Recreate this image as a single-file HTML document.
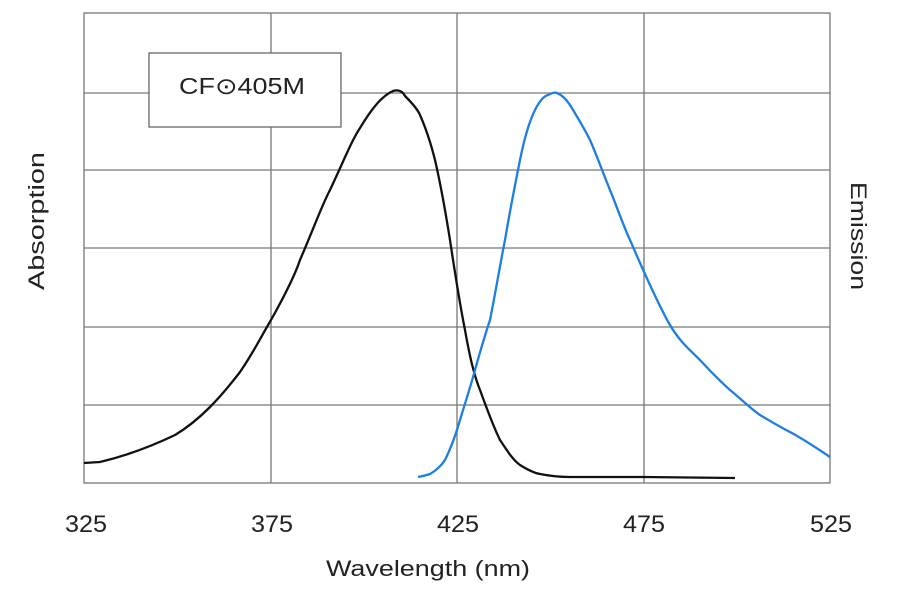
<!DOCTYPE html>
<html><head><meta charset="utf-8"><style>
html,body{margin:0;padding:0;background:#fff;}
svg{display:block;font-family:"Liberation Sans","DejaVu Sans",sans-serif;}
</style></head><body>
<svg width="900" height="594" viewBox="0 0 900 594" xmlns="http://www.w3.org/2000/svg">
<g stroke="#777" stroke-width="1.3" fill="none">
<rect x="84" y="13" width="746" height="470"/>
<line x1="271" y1="13" x2="271" y2="483"/>
<line x1="457" y1="13" x2="457" y2="483"/>
<line x1="644" y1="13" x2="644" y2="483"/>
<line x1="84" y1="93" x2="830" y2="93"/>
<line x1="84" y1="170" x2="830" y2="170"/>
<line x1="84" y1="248" x2="830" y2="248"/>
<line x1="84" y1="327" x2="830" y2="327"/>
<line x1="84" y1="405" x2="830" y2="405"/>
</g>
<rect x="149" y="53" width="192" height="74" fill="#fff" stroke="#666" stroke-width="1.3"/>
<text x="179" y="94" font-size="23" fill="#222" textLength="126" lengthAdjust="spacingAndGlyphs">CF⊙405M</text>
<path d="M84,463 L100,462 C125,456 150,447 175,435 C200,420 220,398 240,372 C255,350 262,335 271,320 C285,295 295,275 300,260 C315,225 322,205 330,190 C345,158 352,140 360,128 C372,108 382,96 393,91 C399,89 403,92 405,96 C412,103 418,110 420,115 C428,133 432,148 435,160 C442,190 446,215 450,240 C456,280 460,305 465,330 C470,358 474,375 480,390 C488,412 494,428 500,440 C508,452 513,460 520,465 C528,470 534,473 540,474 C555,477 565,477 570,477 L643,477 L735,478" fill="none" stroke="#111" stroke-width="2.3"/>
<path d="M418,477 C424,476 427,475 430,474 C437,470 441,466 445,460 C452,446 456,434 460,420 C466,400 471,385 475,370 C482,345 486,332 490,320 C496,290 500,265 505,240 C510,210 515,185 520,160 C525,135 530,120 535,110 C540,100 544,96 548,95 C552,93 555,92 557,93 C562,95 566,99 570,105 C578,118 584,128 590,140 C597,156 603,173 610,190 C617,207 623,225 630,240 C637,256 643,270 650,285 C657,300 663,313 670,325 C680,342 690,350 700,360 C710,371 720,381 730,390 C740,398 750,408 760,415 C770,421 780,427 790,432 C805,440 818,449 830,457" fill="none" stroke="#1e7fe0" stroke-width="2.3"/>
<g font-size="24" fill="#222" text-anchor="middle">
<text x="86" y="532" textLength="42" lengthAdjust="spacingAndGlyphs">325</text>
<text x="272" y="532" textLength="42" lengthAdjust="spacingAndGlyphs">375</text>
<text x="458" y="532" textLength="42" lengthAdjust="spacingAndGlyphs">425</text>
<text x="644" y="532" textLength="42" lengthAdjust="spacingAndGlyphs">475</text>
<text x="831" y="532" textLength="42" lengthAdjust="spacingAndGlyphs">525</text>
<text x="428" y="576" font-size="22" textLength="204" lengthAdjust="spacingAndGlyphs">Wavelength (nm)</text>
<text transform="translate(44,221) rotate(-90)" font-size="22" textLength="138" lengthAdjust="spacingAndGlyphs">Absorption</text>
<text transform="translate(851,236) rotate(90)" font-size="22" textLength="108" lengthAdjust="spacingAndGlyphs">Emission</text>
</g>
</svg>
</body></html>
